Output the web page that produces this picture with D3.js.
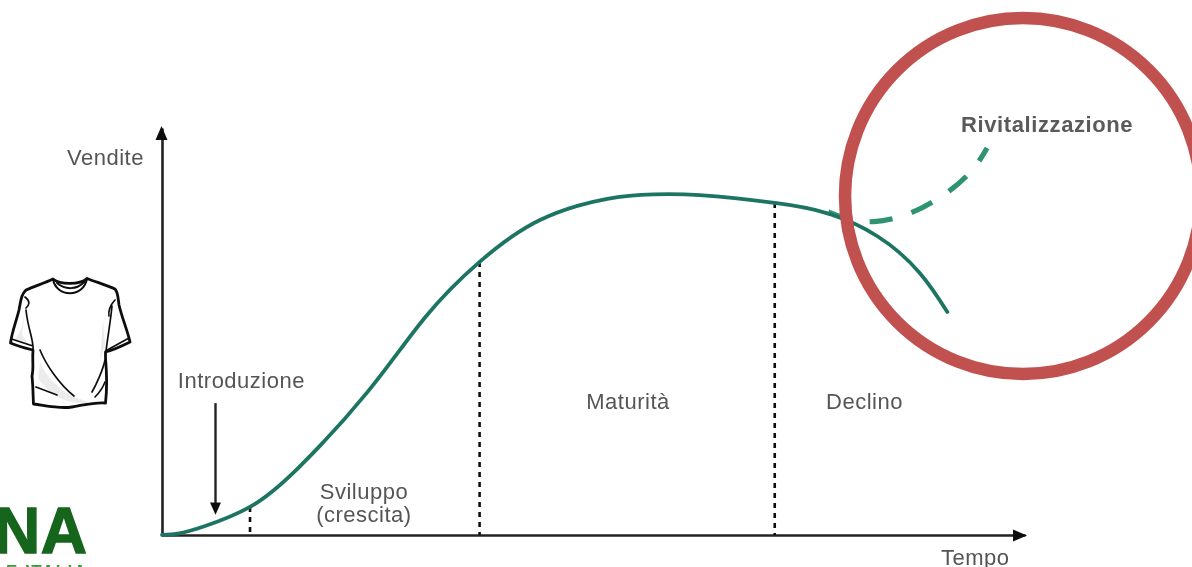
<!DOCTYPE html>
<html><head><meta charset="utf-8">
<style>html,body{margin:0;background:#fff;overflow:hidden}text{font-family:"Liberation Sans",Arial,sans-serif}</style>
<script src="https://cdn.jsdelivr.net/npm/d3@7"></script></head><body>
<svg id="c" width="1192" height="567"></svg>
<script>
const timeValues=[0,2,5,10.2,15.8,23.8,30.5,36.8,43.8,51.6,57,62.3,71,77,82.9,87.8,91];
const salesValues=[0,0.4,2.2,6.9,16.5,35.1,53.5,67.1,77.4,82.6,83.7,83.5,81.6,79.1,73.4,64.4,54.8];
const revivalTime=[77.2,79.6,82.5,86.5,91.2,94.1,95.6];
const revivalSales=[79.4,77.6,77,78.9,84.5,90.2,95.1];
const stageBoundaries=[{t:10.2,s:6.9},{t:36.8,s:67.1},{t:71,s:81.6}];
const stageLabels=[
 {lines:["Introduzione"],t:9.2,s:36},
 {lines:["Sviluppo","(crescita)"],t:23.4,s:8.8},
 {lines:["Maturità"],t:54,s:31},
 {lines:["Declino"],t:81.4,s:31}];
const axisLabels={y:"Vendite",x:"Tempo"};
const revivalLabel="Rivitalizzazione";

const x=d3.scaleLinear().domain([0,100]).range([162,1025]);
const y=d3.scaleLinear().domain([0,100]).range([535,128]);
const svg=d3.select("#c");
const defs=svg.append("defs");
defs.append("filter").attr("id","soft").attr("x","-5%").attr("y","-5%").attr("width","110%").attr("height","110%")
 .append("feGaussianBlur").attr("stdDeviation",0.5);
const plot=svg.append("g").attr("filter","url(#soft)");
const line=d3.line().curve(d3.curveNatural);

plot.append("g").attr("transform","translate(0,535)").call(d3.axisBottom(x).tickValues([]).tickSize(0))
 .select(".domain").attr("stroke","#222").attr("stroke-width",2.6);
plot.append("g").attr("transform","translate(162,0)").call(d3.axisLeft(y).tickValues([]).tickSize(0))
 .select(".domain").attr("stroke","#222").attr("stroke-width",2.6);
plot.append("path").attr("d",d3.line()([[x(100)+2,535.5],[x(100)-12,529.5],[x(100)-12,541.5]])+"Z").attr("fill","#111");
plot.append("path").attr("d",d3.line()([[161.5,y(100)-2],[155.5,y(100)+12],[167.5,y(100)+12]])+"Z").attr("fill","#111");

plot.selectAll("line.stage").data(stageBoundaries).join("line").attr("class","stage")
 .attr("x1",d=>x(d.t)).attr("x2",d=>x(d.t)).attr("y1",d=>y(d.s)).attr("y2",y(0))
 .attr("stroke","#111").attr("stroke-width",2.6).attr("stroke-dasharray","5 5");

plot.append("line").attr("x1",x(6.2)).attr("x2",x(6.2)).attr("y1",y(32.4)).attr("y2",y(7)).attr("stroke","#222").attr("stroke-width",2.4);
plot.append("path").attr("d",d3.line()([[x(6.2),y(5)],[x(6.2)-5.5,y(8)],[x(6.2)+5.5,y(8)]])+"Z").attr("fill","#111");

plot.append("path").attr("d",d3.line().curve(d3.curveCatmullRom)(revivalTime.map((t,i)=>[x(t),y(revivalSales[i])])))
 .attr("fill","none").attr("stroke","#2f9470").attr("stroke-width",5.2).attr("stroke-dasharray","23 20");
plot.append("path").attr("d",line(timeValues.map((t,i)=>[x(t),y(salesValues[i])])))
 .attr("fill","none").attr("stroke","#1f7562").attr("stroke-width",3.8).attr("stroke-linecap","round");

const txt=plot.append("g").attr("fill","#555").attr("font-size",22).attr("letter-spacing",0.5);
stageLabels.forEach(l=>{
 const t=txt.append("text").attr("text-anchor","middle").attr("font-family","Inter").attr("x",x(l.t)).attr("y",y(l.s));
 l.lines.forEach((s,i)=>t.append("tspan").attr("x",x(l.t)).attr("dy",i?23:0).text(s));
});
txt.append("text").attr("font-family","Inter").attr("x",67).attr("y",165).text(axisLabels.y);
txt.append("text").attr("font-family","Inter").attr("x",941).attr("y",565).text(axisLabels.x);
plot.append("text").attr("x",961).attr("y",132).attr("font-size",22).attr("font-weight","bold").attr("letter-spacing",0.6).attr("fill","#5a5a5a").text(revivalLabel);

svg.append("circle").attr("cx",1023).attr("cy",196).attr("r",178).attr("fill","none").attr("stroke","#c0514e").attr("stroke-width",12.5);

const shirt=svg.append("g").attr("fill","none").attr("stroke","#111").attr("stroke-linejoin","round").attr("stroke-linecap","round").attr("filter","url(#soft)");
shirt.append("path").attr("fill","#fff").attr("stroke-width",2.8)
 .attr("d","M53,279 C45,283 35,286 26,290 C21,295 21,300 19,310 C16,322 12,332 10.5,343 C17,346 25,348 33,350 C32,360 34,368 32,376 C33,385 33,395 33.5,404 C48,406 60,409 72,407 C84,405 95,402 105.5,403 C107,390 107,375 105.5,358 L105.5,352 C113,350 122,346 130,342 C128,332 122,318 119,305 C118,298 118,292 115,289 C106,285 96,282 87,278.5 C80,285 60,285 53,279 Z");
shirt.append("path").attr("fill","#ececec").attr("stroke","none").attr("d","M14,341 L21,330 L25,312 L22,335 L30,346 Z M40,362 C50,385 70,398 90,402 C70,406 50,397 38,378 Z M103,320 L105,345 L100,360 Z");
shirt.append("path").attr("stroke-width",2).attr("d","M53,279 C56,298 84,298 87,278.5 M57,283 C65,290 77,290 84,282");
shirt.append("path").attr("stroke-width",1.7).attr("d","M33,350 C34,340 28,330 26,310 M11.5,339 L33,346 M105.5,351 L129,338 M106,351 C108,335 111,318 112,306 M26,308 C29,305 31,302 25,297 M115,300 C110,305 108,312 109,316 M40,350 C46,365 60,385 74,396 M36,387 L57,395 M92,392 C96,385 103,370 105,360 M95,397 C98,394 102,390 105,382");

const logo=svg.append("g").attr("fill","#18651f").attr("filter","url(#soft)");
logo.append("text").attr("x",-6).attr("y",552.5).attr("font-size",64).attr("font-weight","bold").attr("stroke","#18651f").attr("stroke-width",1.4).attr("letter-spacing",0.5).text("NA");
logo.append("text").attr("x",6).attr("y",577).attr("font-size",17).attr("font-weight","bold").attr("fill","#3a9a3a").attr("letter-spacing",1.5).text("E ITALIA");
</script></body></html>
